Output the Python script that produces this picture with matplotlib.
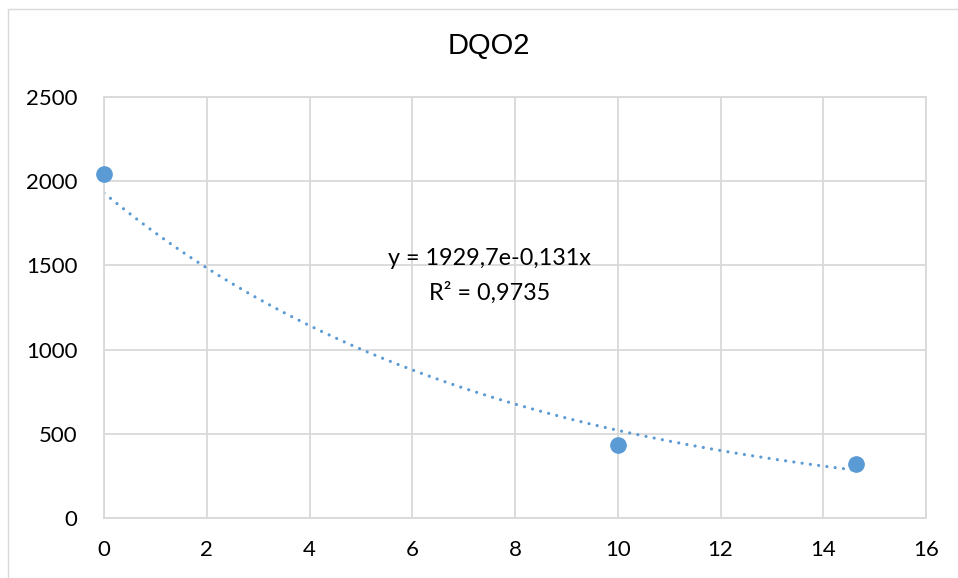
import numpy as np
import matplotlib
matplotlib.use("Agg")
import matplotlib.pyplot as plt
from matplotlib.patches import Rectangle

# Measured data
x_vals = [0, 10, 14.63]
y_vals = [2045, 432, 322]

# Exponential trendline y = a * exp(b x)
fit_a = 1929.7
fit_b = -0.131
eq_text = "y = 1929,7e-0,131x"
r2_text = "R² = 0,9735"
title_text = "DQO2"

x_ticks = [0, 2, 4, 6, 8, 10, 12, 14, 16]
y_ticks = [0, 500, 1000, 1500, 2000, 2500]

blue = "#5b9bd5"
grid_c = "#d9d9d9"
font = ["Lato", "DejaVu Sans"]

fig = plt.figure(figsize=(9.58, 5.78), dpi=100)
W, H = 958, 578
# chart frame
fig.patches.append(Rectangle((8 / W, -0.1), 1.2, (H - 9) / H + 0.1, transform=fig.transFigure,
                             fill=False, edgecolor="#d9d9d9", linewidth=1.0))

ax = fig.add_axes([104 / W, 1 - 518 / H, (926 - 104) / W, (518 - 97) / H])
ax.set_xlim(0, 16)
ax.set_ylim(0, 2500)
ax.set_xticks(x_ticks)
ax.set_yticks(y_ticks)
ax.grid(True, color=grid_c, linewidth=1.3)
ax.set_axisbelow(True)
for s in ax.spines.values():
    s.set_color(grid_c)
    s.set_linewidth(1.3)
ax.tick_params(length=0, labelsize=16, colors="black")
ax.tick_params(axis="y", pad=19)
ax.tick_params(axis="x", pad=16)
for lab in ax.get_xticklabels() + ax.get_yticklabels():
    lab.set_family(font)

xs = np.linspace(x_vals[0], x_vals[-1], 200)
ax.plot(xs, fit_a * np.exp(fit_b * xs), color=blue, linewidth=2.3,
        linestyle=(0, (0.01, 2.6)), dash_capstyle="round", zorder=2)
ax.plot(x_vals, y_vals, "o", color=blue, markersize=11, zorder=3, clip_on=False)

ax.text(7.5, 1540, eq_text, ha="center", va="center", fontsize=16.8, family=font)
ax.text(7.5, 1335, r2_text, ha="center", va="center", fontsize=16.8, family=font)

fig.text(489 / W, 1 - 46 / H, title_text, ha="center", va="center", fontsize=21,
         family=["Liberation Sans", "DejaVu Sans"], color="#000000")

fig.savefig("out.png", dpi=100)
